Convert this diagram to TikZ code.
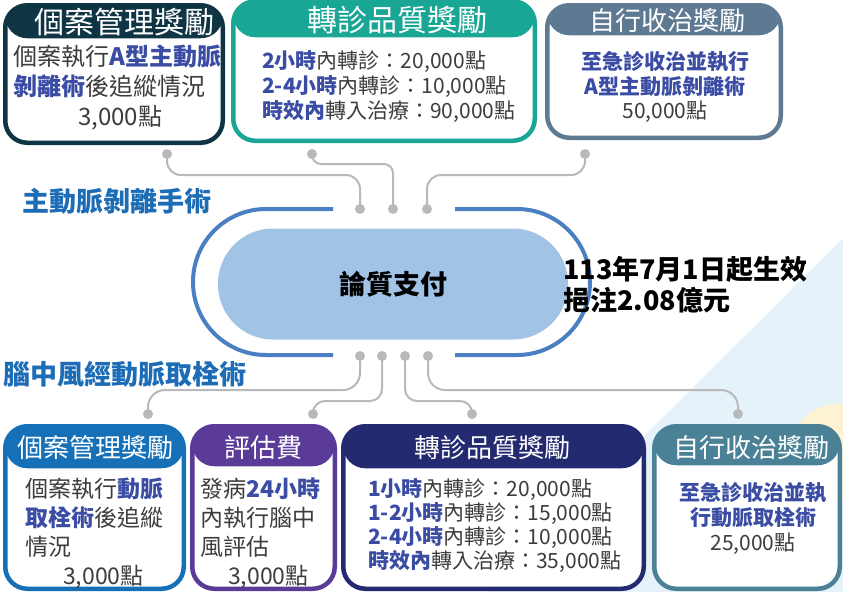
\documentclass[tikz,border=0pt]{standalone}
\usepackage{fontspec}
\setmainfont{Noto Sans CJK TC}
\usetikzlibrary{calc}
\definecolor{bgblue}{HTML}{E6F2FA}
\definecolor{bgyellow}{HTML}{FDF3D3}
\definecolor{cTopA}{HTML}{0F3545}
\definecolor{cTopB}{HTML}{1AA694}
\definecolor{cTopC}{HTML}{5E7A92}
\definecolor{cBotA}{HTML}{1670B8}
\definecolor{cBotB}{HTML}{5A3C98}
\definecolor{cBotC}{HTML}{232A70}
\definecolor{cBotD}{HTML}{4A8196}
\definecolor{txtgray}{HTML}{3D3D3D}
\definecolor{hlblue}{HTML}{3A4CA3}
\definecolor{ttlblue}{HTML}{1D6DB6}
\definecolor{ringblue}{HTML}{4A80C3}
\definecolor{pillblue}{HTML}{A0C3E6}
\definecolor{conngray}{HTML}{B9B9BC}
\newcommand\hl[1]{{\bfseries\color{hlblue}#1}}
\begin{document}
\begin{tikzpicture}[x=1pt,y=-1pt,
  box/.style 2 args={draw=#1, line width=4.5pt, fill=white, rounded corners=22pt, inner sep=0pt,
     path picture={\fill[#1] ([yshift=5pt]path picture bounding box.north west) rectangle ([yshift=-#2]path picture bounding box.north east);}},
  hdr/.style={text=white, inner sep=0pt, font=\fontsize{#1}{#1}\selectfont},
  body/.style 2 args={text=txtgray, inner sep=0pt, font=\fontsize{#1}{#2}\selectfont},
  conn/.style={draw=conngray, line width=2pt},
  dot/.style={circle, fill=conngray, minimum size=10pt, inner sep=0pt},
  ring/.style={draw=ringblue, line width=4pt},
  title/.style={text=ttlblue, font=\fontsize{27}{27}\selectfont\bfseries, inner sep=0pt, anchor=west},
  note/.style={text=black, font=\fontsize{27}{27}\selectfont\bfseries, inner sep=0pt, anchor=west},
]
\fill[white] (0,0) rectangle (843,592);
\useasboundingbox (0,0) rectangle (843,592);
% background decoration
\fill[bgblue] (843,238) -- (843,592) -- (488,592) -- cycle;
\fill[bgyellow] (838,452) circle[radius=48];

% connector dots
\node[dot] (tA1) at (167,154) {};
\node[dot] (tB1) at (312,154) {};
\node[dot] (tC1) at (585,154) {};
\node[dot] (rt1) at (360,209) {};
\node[dot] (rt2) at (393,209) {};
\node[dot] (rt3) at (427,209) {};
\node[dot] (rb1) at (360,356) {};
\node[dot] (rb2) at (382,356) {};
\node[dot] (rb3) at (405,356) {};
\node[dot] (rb4) at (428,356) {};
\node[dot] (bA1) at (148,414) {};
\node[dot] (bB1) at (313,414) {};
\node[dot] (bC1) at (472,414) {};
\node[dot] (bD1) at (738,414) {};
\coordinate (yA) at (0,175);
\coordinate (yB) at (0,164);
\coordinate (yC) at (0,390);
\coordinate (yD) at (0,401);

% connectors
\draw[conn, rounded corners=14pt] (tA1.center) -- (tA1.center |- yA) -- (rt1.center |- yA) -- (rt1.center);
\draw[conn, rounded corners=9pt] (tB1.center) -- (tB1.center |- yB) -- (rt2.center |- yB) -- (rt2.center);
\draw[conn, rounded corners=14pt] (tC1.center) -- (tC1.center |- yA) -- (rt3.center |- yA) -- (rt3.center);
\draw[conn, rounded corners=17pt] (rb1.center) -- (rb1.center |- yC) -- (bA1.center |- yC) -- (bA1.center);
\draw[conn, rounded corners=12pt] (rb2.center) -- (rb2.center |- yD) -- (bB1.center |- yD) -- (bB1.center);
\draw[conn, rounded corners=12pt] (rb3.center) -- (rb3.center |- yD) -- (bC1.center |- yD) -- (bC1.center);
\draw[conn, rounded corners=17pt] (rb4.center) -- (rb4.center |- yC) -- (bD1.center |- yC) -- (bD1.center);

% ring and centre pill
\draw[ring] (333,209) -- (266,209) arc[start angle=270, end angle=90, radius=73] -- (333,355);
\draw[ring] (455,209) -- (517,209) arc[start angle=270, end angle=450, radius=73] -- (455,355);
\node[fill=pillblue, minimum width=350pt, minimum height=111pt, rounded corners=55pt, inner sep=0pt,
      font=\fontsize{27}{27}\selectfont\bfseries] (pay) at (393,284) {論質支付};

% titles and note
\node[title] (ttl1) at (22,201) {主動脈剝離手術};
\node[title] (ttl2) at (3,374) {腦中風經動脈取栓術};
\node[note] (n1) at (563,269) {113年7月1日起生效};
\node[note] (n2) at (563,300) {挹注2.08億元};

% top boxes
\node[box={cTopA}{33pt}, minimum width=217.5pt, minimum height=137.5pt] (tA) at (114,74) {};
\node[hdr=30] (tAh) at (124,22) {個案管理獎勵};
\node[body={24}{30}, anchor=west, align=left] (tAb) at (13,87) {個案執行\hl{A型主動脈}\\\hl{剝離術}後追縱情況\\\hspace*{65pt}3,000點};

\node[box={cTopB}{36pt}, minimum width=301.5pt, minimum height=139.5pt] (tB) at (384,71) {};
\node[hdr=30] (tBh) at (397,20) {轉診品質獎勵};
\node[body={21}{25}, anchor=west, align=left] (tBb) at (262,87) {\hl{2小時}內轉診：20,000點\\\hl{2-4小時}內轉診：10,000點\\\hl{時效內}轉入治療：90,000點};

\node[box={cTopC}{30pt}, minimum width=233.5pt, minimum height=132.5pt] (tC) at (664,71.5) {};
\node[hdr=26] (tCh) at (667,21) {自行收治獎勵};
\node[body={21}{24.5}, align=center] (tCb) at (665,87) {\hl{至急診收治並執行}\\\hl{A型主動脈剝離術}\\50,000點};

% bottom boxes
\node[box={cBotA}{42pt}, minimum width=178.5pt, minimum height=162.5pt] (bA) at (94.5,507.5) {};
\node[hdr=26] (bAh) at (95,448) {個案管理獎勵};
\node[body={23}{29}, anchor=west, align=left] (bAb) at (25,533) {個案執行\hl{動脈}\\\hl{取栓術}後追縱\\情況\\\hspace*{38pt}3,000點};

\node[box={cBotB}{40pt}, minimum width=142.5pt, minimum height=162.5pt] (bB) at (263.5,507.5) {};
\node[hdr=26] (bBh) at (263,448) {評估費};
\node[body={23}{29}, anchor=west, align=left] (bBb) at (200,533) {發病\hl{24小時}\\內執行腦中\\風評估\\\hspace*{28pt}3,000點};

\node[box={cBotC}{42pt}, minimum width=300.5pt, minimum height=162.5pt] (bC) at (493.5,507.5) {};
\node[hdr=26] (bCh) at (492,448) {轉診品質獎勵};
\node[body={21}{24}, anchor=west, align=left] (bCb) at (368,525) {\hl{1小時}內轉診：20,000點\\\hl{1-2小時}內轉診：15,000點\\\hl{2-4小時}內轉診：10,000點\\\hl{時效內}轉入治療：35,000點};

\node[box={cBotD}{39pt}, minimum width=185.5pt, minimum height=162.5pt] (bD) at (747,507.5) {};
\node[hdr=26] (bDh) at (751,448) {自行收治獎勵};
\node[body={21}{25}, align=center] (bDb) at (753,518) {\hl{至急診收治並執}\\\hl{行動脈取栓術}\\25,000點};
\end{tikzpicture}
\end{document}
